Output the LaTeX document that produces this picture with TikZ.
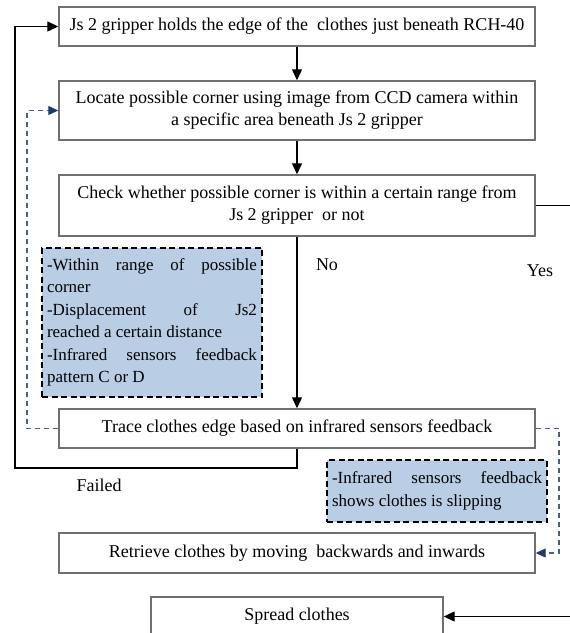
\documentclass[tikz,border=0pt]{standalone}
\usepackage{fontspec}
\setmainfont{Liberation Serif}
\usetikzlibrary{arrows.meta}
\definecolor{notefill}{HTML}{B9CDE5}
\definecolor{loopblue}{HTML}{4A607F}
\definecolor{tipblue}{HTML}{1F3A64}
\definecolor{boxgray}{HTML}{707070}
\tikzset{
	stepbox/.style = {
		rectangle,
		draw=boxgray,
		line width=1.4pt,
		fill=white,
		align=center,
		inner sep=0pt,
		minimum width=476pt,
		font=\fontsize{18}{22}\selectfont
	},
	notebox/.style = {
		rectangle,
		draw=black,
		dash pattern=on 6pt off 3.5pt,
		line width=1.5pt,
		fill=notefill,
		align=justify,
		text width=210pt,
		inner xsep=5pt,
		inner ysep=0pt,
		font=\fontsize{17}{22.5}\selectfont
	},
	tag/.style = {
		inner sep=0pt,
		font=\fontsize{18}{22}\selectfont
	},
	flow/.style = {
		->,
		line width=1.3pt
	},
	backflow/.style = {
		-{Triangle[length=10pt,width=9pt,color=tipblue]},
		loopblue,
		dash pattern=on 5pt off 4pt,
		line width=1.1pt
	}
}

\begin{document}
\begin{tikzpicture}[x=1pt, y=-1pt, >={Triangle[length=11pt,width=10pt]}]
\path[use as bounding box, clip] (0,0) rectangle (570,633);
\fill[white] (0,0) rectangle (570,633);

\node [stepbox, minimum height=39pt] (hold) at (297,26.5) {Js 2 gripper holds the edge of the\ \ clothes just beneath RCH-40};
\node [stepbox, minimum height=59pt] (locate) at (297,110.5) {Locate possible corner using image from CCD camera within\\a specific area beneath Js 2 gripper};
\node [stepbox, minimum height=61pt] (check) at (297,205.5) {Check whether possible corner is within a certain range from\\Js 2 gripper\ \ or not};
\node [notebox, minimum height=149pt] (range) at (152,322.5) {-Within range of possible\linebreak corner\\-Displacement of Js2\linebreak reached a certain distance\\-Infrared sensors feedback\linebreak pattern C or D};
\node [stepbox, minimum height=39pt] (trace) at (297,428.5) {Trace clothes edge based on infrared sensors feedback};
\node [notebox, minimum height=62pt] (slip) at (437,491) {-Infrared sensors feedback\linebreak shows clothes is slipping};
\node [stepbox, minimum height=40pt] (retrieve) at (297,553) {Retrieve clothes by moving\ \ backwards and inwards};
\node [stepbox, minimum width=292pt, minimum height=39pt] (spread) at (297,616.5) {Spread clothes};

\node [tag] (nolabel) at (327,265) {No};
\node [tag] (yeslabel) at (540,271) {Yes};
\node [tag] (failedlabel) at (99,485) {Failed};

\coordinate (failturn) at (15,468);
\coordinate (leftloop) at (27,428.5);
\coordinate (rightloop) at (559,428.5);
\coordinate (yesturn) at (600,205.5);

\draw [flow] (hold) -- (locate);
\draw [flow] (locate) -- (check);
\draw [flow] (check) -- (trace);
\draw [flow] (trace.south) |- (failturn) |- (hold.west);
\draw [flow] (check.east) -- (yesturn) |- (spread.east);
\draw [backflow] (trace.west) -- (leftloop) |- (locate.west);
\draw [backflow] (trace.east) -- (rightloop) |- (retrieve.east);
\end{tikzpicture}
\end{document}
